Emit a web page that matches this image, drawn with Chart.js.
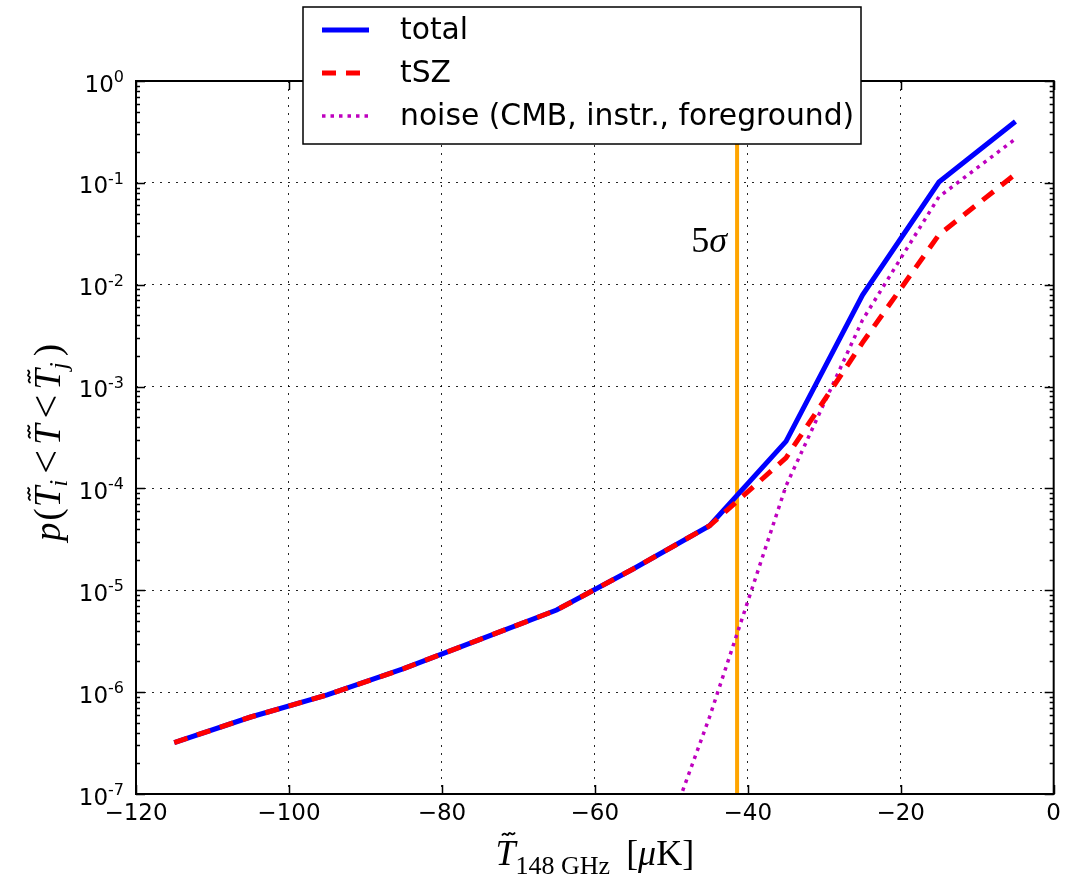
<!DOCTYPE html>
<html lang="en">
<head>
<meta charset="UTF-8">
<title>p(T_i &lt; T &lt; T_j) vs T 148 GHz</title>
<script src="https://cdn.jsdelivr.net/npm/chart.js"></script>
<style>
  html, body { margin: 0; padding: 0; background: #fff; }
  #wrap { width: 1067px; height: 875px; }
</style>
</head>
<body>
<div id="wrap"><canvas id="probChart" width="1067" height="875"></canvas></div>
<script>
  // temperature bins (bin centres, muK)
  const tempBins = [-115, -105, -95, -85, -75, -65, -55, -45, -35, -25, -15, -5];
  const totalProb = [3.2e-7, 5.7e-7, 9.4e-7, 1.7e-6, 3.3e-6, 6.4e-6, 1.62e-5, 4.3e-5, 2.9e-4, 7.9e-3, 0.102, 0.40];
  const tszProb   = [3.2e-7, 5.7e-7, 9.4e-7, 1.7e-6, 3.3e-6, 6.4e-6, 1.62e-5, 4.3e-5, 2.0e-4, 2.7e-3, 0.031, 0.122];
  const noiseProb = [null, null, null, null, null, null, 5e-9, 5.7e-7, 1.06e-4, 4.5e-3, 0.073, 0.27];
  const fiveSigmaT = -41.4;
  const xTickValues = [-120, -100, -80, -60, -40, -20, 0];
  const yTickPowers = [0, -1, -2, -3, -4, -5, -6, -7];

  const toPoints = (ys) => tempBins.map((x, i) => ({ x: x, y: ys[i] }));

  const SANS = '"DejaVu Sans", sans-serif';
  const SERIF = '"Liberation Serif", "DejaVu Serif", serif';

  function tilde(ctx, cx, cy, w) {
    ctx.save();
    ctx.lineWidth = 1.8;
    ctx.beginPath();
    ctx.moveTo(cx - w / 2, cy + 1.5);
    ctx.bezierCurveTo(cx - w / 4, cy - 3.5, cx - w / 8, cy + 3.5, cx, cy);
    ctx.bezierCurveTo(cx + w / 8, cy - 3.5, cx + w / 4, cy + 3.5, cx + w / 2, cy - 1.5);
    ctx.stroke();
    ctx.restore();
  }

  // draws a run of text pieces starting at x on baseline y
  function drawRun(ctx, pieces, x, y) {
    pieces.forEach(p => {
      x += p.pre || 0;
      ctx.font = p.font;
      ctx.fillText(p.t, x, y + (p.dy || 0));
      const w = ctx.measureText(p.t).width;
      if (p.tilde) tilde(ctx, x + w / 2 + 3, y - 31, 13);
      x += w + (p.gap || 0);
    });
  }
  function runWidth(ctx, pieces) {
    let w = 0;
    pieces.forEach(p => { ctx.font = p.font; w += ctx.measureText(p.t).width + (p.gap || 0) + (p.pre || 0); });
    return w;
  }

  const decorPlugin = {
    id: 'decor',
    afterDraw(chart) {
      const ctx = chart.ctx;
      const a = chart.chartArea;
      const xs = chart.scales.x, ys = chart.scales.y;
      ctx.save();
      ctx.strokeStyle = '#000';
      ctx.fillStyle = '#000';

      // ticks (inward, all four sides)
      ctx.lineWidth = 1.5;
      ctx.beginPath();
      xTickValues.forEach(v => {
        const px = Math.round(xs.getPixelForValue(v)) + 0.5;
        ctx.moveTo(px, a.bottom); ctx.lineTo(px, a.bottom - 9);
        ctx.moveTo(px, a.top); ctx.lineTo(px, a.top + 9);
      });
      yTickPowers.forEach(k => {
        const py = Math.round(ys.getPixelForValue(Math.pow(10, k))) + 0.5;
        ctx.moveTo(a.left, py); ctx.lineTo(a.left + 9, py);
        ctx.moveTo(a.right, py); ctx.lineTo(a.right - 9, py);
        if (k < 0) {
          for (let m = 2; m <= 9; m++) {
            const pm = Math.round(ys.getPixelForValue(m * Math.pow(10, k))) + 0.5;
            ctx.moveTo(a.left, pm); ctx.lineTo(a.left + 4, pm);
            ctx.moveTo(a.right, pm); ctx.lineTo(a.right - 4, pm);
          }
        }
      });
      ctx.stroke();

      // frame
      ctx.lineWidth = 2;
      ctx.strokeRect(a.left, a.top, a.right - a.left, a.bottom - a.top);

      // y tick labels 10^k
      ctx.textBaseline = 'alphabetic';
      ctx.textAlign = 'left';
      yTickPowers.forEach(k => {
        const py = ys.getPixelForValue(Math.pow(10, k));
        const ex = k === 0 ? '0' : '-' + Math.abs(k);
        ctx.font = '16px ' + SANS;
        const we = ctx.measureText(ex).width;
        ctx.font = '23px ' + SANS;
        const wb = ctx.measureText('10').width;
        const x0 = 124 - we - wb;
        ctx.fillText('10', x0, py + 10.5);
        ctx.font = '16px ' + SANS;
        ctx.fillText(ex, x0 + wb, py + 1);
      });

      // x axis title
      const xt = [
        { t: 'T', font: 'italic 36px ' + SERIF, tilde: true, gap: 0 },
        { t: '148 GHz', font: '26px ' + SERIF, dy: 9, gap: 16 },
        { t: '[', font: '36px ' + SERIF },
        { t: 'μ', font: 'italic 36px ' + SERIF },
        { t: 'K]', font: '36px ' + SERIF }
      ];
      const xw = runWidth(ctx, xt);
      drawRun(ctx, xt, (a.left + a.right) / 2 - xw / 2, 865);

      // y axis title (rotated)
      const yt = [
        { t: 'p', font: 'italic 37px ' + SERIF, gap: 2 },
        { t: '(', font: '37px ' + SERIF, gap: 1 },
        { t: 'T', font: 'italic 37px ' + SERIF, tilde: true },
        { t: 'i', font: 'italic 25px ' + SERIF, dy: 7, gap: 6 },
        { t: '<', font: '42px ' + SERIF, gap: 5 },
        { t: 'T', font: 'italic 37px ' + SERIF, tilde: true, gap: 6 },
        { t: '<', font: '42px ' + SERIF, gap: 5 },
        { t: 'T', font: 'italic 37px ' + SERIF, tilde: true },
        { t: 'j', font: 'italic 25px ' + SERIF, dy: 7, gap: 6 },
        { t: ')', font: '37px ' + SERIF }
      ];
      const yw = runWidth(ctx, yt);
      ctx.save();
      ctx.translate(60, (a.top + a.bottom) / 2 + 5);
      ctx.rotate(-Math.PI / 2);
      drawRun(ctx, yt, -yw / 2, 0);
      ctx.restore();

      // 5 sigma label
      const sx = xs.getPixelForValue(fiveSigmaT);
      const sy = ys.getPixelForValue(Math.pow(10, -1.68));
      const st = [
        { t: '5', font: '36px ' + SERIF },
        { t: 'σ', font: 'italic 36px ' + SERIF }
      ];
      drawRun(ctx, st, sx - 10 - runWidth(ctx, st), sy);

      // legend
      const lx = 303, ly = 7, lw = 558, lh = 137;
      ctx.fillStyle = '#fff';
      ctx.fillRect(lx, ly, lw, lh);
      ctx.lineWidth = 1.5;
      ctx.strokeStyle = '#000';
      ctx.strokeRect(lx, ly, lw, lh);
      const entries = [
        { label: 'total', color: '#0000ff', width: 5, dash: [], y: 30 },
        { label: 'tSZ', color: '#ff0000', width: 5, dash: [14, 10], y: 73 },
        { label: 'noise (CMB, instr., foreground)', color: '#bf00bf', width: 3.5, dash: [3.5, 5], y: 116 }
      ];
      entries.forEach(e => {
        ctx.beginPath();
        ctx.strokeStyle = e.color;
        ctx.lineWidth = e.width;
        ctx.setLineDash(e.dash);
        ctx.moveTo(322, e.y); ctx.lineTo(369, e.y);
        ctx.stroke();
        ctx.setLineDash([]);
        ctx.fillStyle = '#000';
        ctx.font = '29.8px ' + SANS;
        ctx.textBaseline = 'middle';
        ctx.fillText(e.label, 400, e.y + 1);
      });
      ctx.restore();
    }
  };

  const gridStyle = { color: 'rgba(0,0,0,0.85)', lineWidth: 1, drawTicks: false };

  new Chart(document.getElementById('probChart'), {
    type: 'line',
    data: {
      datasets: [
        { label: 'tSZ', data: toPoints(tszProb), borderColor: '#ff0000', borderWidth: 5,
          borderDash: [14, 10], pointRadius: 0, tension: 0, fill: false, order: 0 },
        { label: 'noise (CMB, instr., foreground)', data: toPoints(noiseProb), borderColor: '#bf00bf',
          borderWidth: 3.5, borderDash: [3.5, 5], pointRadius: 0, tension: 0, fill: false, spanGaps: false, order: 1 },
        { label: 'total', data: toPoints(totalProb), borderColor: '#0000ff', borderWidth: 5,
          pointRadius: 0, tension: 0, fill: false, order: 2 },
        { label: '5 sigma', data: [{ x: fiveSigmaT, y: 1e-7 }, { x: fiveSigmaT, y: 1 }],
          borderColor: '#ffa500', borderWidth: 4, pointRadius: 0, fill: false, order: 3 }
      ]
    },
    options: {
      responsive: false,
      animation: false,
      devicePixelRatio: 1,
      layout: { padding: { top: 81, right: 9, left: 0, bottom: 0 } },
      plugins: { legend: { display: false }, tooltip: { enabled: false } },
      scales: {
        x: {
          type: 'linear', min: -120, max: 0,
          afterBuildTicks: (s) => { s.ticks = xTickValues.map(v => ({ value: v })); },
          afterFit: (s) => { s.height = 81; },
          ticks: {
            color: '#000', padding: 6,
            font: { family: 'DejaVu Sans', size: 23 },
            callback: (v) => String(v).replace('-', '\u2212')
          },
          grid: gridStyle,
          border: { display: false, dash: [2, 6] }
        },
        y: {
          type: 'logarithmic', min: 1e-7, max: 1,
          afterBuildTicks: (s) => { s.ticks = yTickPowers.map(k => ({ value: Math.pow(10, k) })); },
          afterFit: (s) => { s.width = 136; },
          ticks: { display: false },
          grid: gridStyle,
          border: { display: false, dash: [2, 6] }
        }
      }
    },
    plugins: [decorPlugin]
  });
</script>
</body>
</html>
